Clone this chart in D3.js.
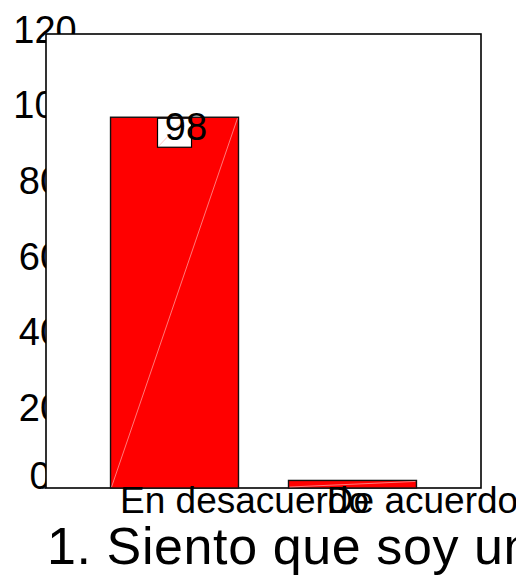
<!DOCTYPE html>
<html>
<head>
<meta charset="utf-8">
<script src="https://cdn.jsdelivr.net/npm/d3@7/dist/d3.min.js"></script>
<style>
  html, body { margin: 0; padding: 0; background: #fff; }
  svg { display: block; }
  text { font-family: "Liberation Sans", Arial, sans-serif; fill: #000; }
</style>
</head>
<body>
<svg id="chart" width="516" height="576"></svg>
<script>
const categories = ["En desacuerdo", "De acuerdo"];
const values = [98, 2];
const yTicks = [0, 20, 40, 60, 80, 100, 120];
const valueLabels = ["98"];
const title = "1. Siento que soy una persona digna de aprecio, al menos en igual medida que los demás";

const svg = d3.select("#chart");
const plot = { left: 46, top: 34, right: 481, bottom: 488 };

const y = d3.scaleLinear().domain([0, 120]).range([plot.bottom, plot.top]);
const x = d3.scaleBand().domain(categories).range([plot.left, plot.right])
  .paddingInner(0.281).paddingOuter(0.3626);

// Y axis labels (drawn first, partly covered by the plot area)
const yAxis = d3.axisLeft(y).tickValues(yTicks).tickSize(0).tickPadding(0);
const yg = svg.append("g").attr("transform", "translate(40,0)").call(yAxis);
yg.select(".domain").remove();
yg.selectAll("text")
  .attr("text-anchor", "middle")
  .attr("x", d => String(d).length > 2 ? 5 : 0)
  .attr("dy", d => d === 0 ? 0 : 8)
  .style("font-size", "38px")
  .style("font-family", "'Liberation Sans', Arial, sans-serif");

// Plot area
svg.append("rect")
  .attr("x", plot.left).attr("y", plot.top)
  .attr("width", plot.right - plot.left).attr("height", plot.bottom - plot.top)
  .attr("fill", "#fff").attr("stroke", "#000").attr("stroke-width", 1.6);

// small tick at zero
svg.append("line")
  .attr("x1", plot.left - 4).attr("x2", plot.left)
  .attr("y1", y(0)).attr("y2", y(0))
  .attr("stroke", "#000").attr("stroke-width", 1.2);

const data = categories.map((c, i) => ({ c, v: values[i] }));

// Bars
svg.selectAll("rect.bar").data(data).enter().append("rect")
  .attr("class", "bar")
  .attr("x", d => x(d.c)).attr("y", d => y(d.v))
  .attr("width", x.bandwidth()).attr("height", d => y(0) - y(d.v))
  .attr("fill", "#ff0000").attr("stroke", "#111").attr("stroke-width", 1.4);

// faint diagonal highlight lines in bars
svg.selectAll("line.diag").data(data).enter().append("line")
  .attr("class", "diag")
  .attr("x1", d => x(d.c) + 1).attr("y1", y(0) - 1)
  .attr("x2", d => x(d.c) + x.bandwidth() - 1).attr("y2", d => y(d.v) + 1)
  .attr("stroke", "rgba(255,255,255,0.6)").attr("stroke-width", 0.8);

// Value label with white box
const lab = data[0];
const cx = x(lab.c) + x.bandwidth() / 2;
const by = y(lab.v) + 1;
svg.append("rect")
  .attr("x", cx - 17).attr("y", by)
  .attr("width", 34).attr("height", 29)
  .attr("fill", "#fff").attr("stroke", "#000").attr("stroke-width", 1.2);
svg.append("line")
  .attr("x1", cx - 16).attr("y1", by + 28)
  .attr("x2", cx + 10).attr("y2", by + 1)
  .attr("stroke", "rgba(255,80,80,0.45)").attr("stroke-width", 0.8);
svg.append("text")
  .attr("x", cx + 11.5).attr("y", by + 22)
  .attr("text-anchor", "middle")
  .style("font-size", "38px")
  .text(valueLabels[0]);

// X axis labels
const xAxis = d3.axisBottom(x).tickSize(0).tickPadding(0);
const xg = svg.append("g").attr("transform", `translate(0,${plot.bottom})`).call(xAxis);
xg.select(".domain").remove();
xg.selectAll("text")
  .attr("text-anchor", "middle")
  .attr("dx", 70)
  .attr("y", 25)
  .attr("dy", 0)
  .style("font-size", "37px")
  .style("font-family", "'Liberation Sans', Arial, sans-serif");

// Title
svg.append("text")
  .attr("x", 47).attr("y", 564)
  .style("font-size", "52px")
  .style("letter-spacing", "0.6px")
  .text(title);
</script>
</body>
</html>
